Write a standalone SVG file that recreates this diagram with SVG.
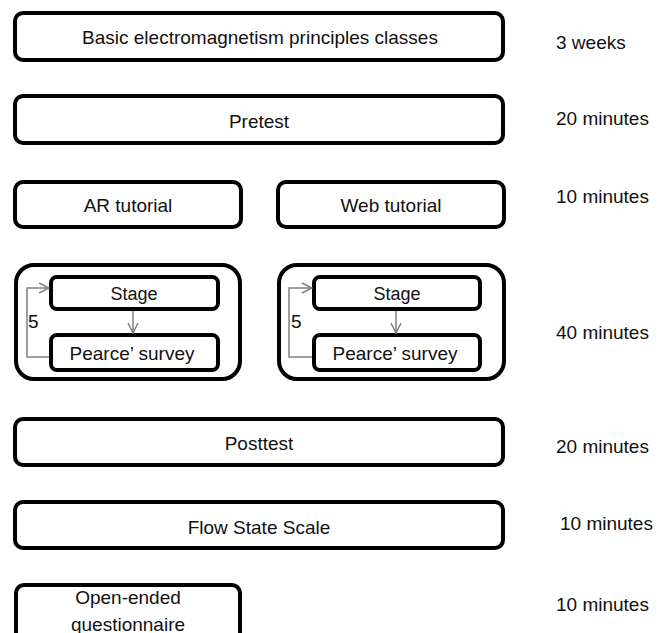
<svg xmlns="http://www.w3.org/2000/svg" width="659" height="633" viewBox="0 0 659 633">
<style>
.box{fill:#fff;stroke:#000;stroke-width:4}
.t{font-family:"Liberation Sans",Arial,sans-serif;font-size:19px;fill:#111;text-anchor:middle;dominant-baseline:central}
.s{font-size:18px}
.d{font-family:"Liberation Sans",Arial,sans-serif;font-size:19px;fill:#111;dominant-baseline:central}
.c{fill:none;stroke:#808080;stroke-width:1.5}
</style>
<defs>
<marker id="a" viewBox="0 0 12 12" refX="11" refY="6" markerWidth="12" markerHeight="12" markerUnits="userSpaceOnUse" orient="auto">
<path d="M1,1 L11,6 L1,11" fill="none" stroke="#808080" stroke-width="1.5"/>
</marker>
</defs>
<g id="n1"><rect class="box" x="15" y="13" width="488" height="47" rx="8"/><text class="t" x="260" y="37">Basic electromagnetism principles classes</text></g>
<g id="n2"><rect class="box" x="15" y="96" width="488" height="47" rx="8"/><text class="t" x="259" y="121">Pretest</text></g>
<g id="n3"><rect class="box" x="15" y="182" width="226" height="45" rx="8"/><text class="t" x="128" y="205">AR tutorial</text></g>
<g id="n4"><rect class="box" x="278" y="182" width="226" height="45" rx="8"/><text class="t" x="391" y="205">Web tutorial</text></g>
<g id="c1"><rect class="box" x="16" y="265" width="224" height="114" rx="18"/></g>
<g id="n5"><rect class="box" x="51" y="277" width="167" height="32" rx="6"/><text class="t s" x="134" y="294">Stage</text></g>
<g id="n6"><rect class="box" x="51" y="335" width="167" height="35" rx="6"/><text class="t" x="132" y="353">Pearce’ survey</text></g>
<g id="c2"><rect class="box" x="279" y="265" width="225" height="114" rx="18"/></g>
<g id="n7"><rect class="box" x="314" y="277" width="166" height="32" rx="6"/><text class="t s" x="397" y="294">Stage</text></g>
<g id="n8"><rect class="box" x="314" y="335" width="166" height="35" rx="6"/><text class="t" x="395" y="353">Pearce’ survey</text></g>
<g id="n9"><rect class="box" x="15" y="419" width="488" height="46" rx="8"/><text class="t" x="259" y="443">Posttest</text></g>
<g id="n10"><rect class="box" x="15" y="502" width="488" height="46" rx="8"/><text class="t" x="259" y="527">Flow State Scale</text></g>
<g id="n11"><rect class="box" x="16" y="585" width="224" height="56" rx="8"/><text class="t" x="128" y="597">Open-ended</text><text class="t" x="128" y="624">questionnaire</text></g>
<g id="connectors">
<line class="c" x1="133" y1="311" x2="133" y2="333" marker-end="url(#a)"/>
<polyline class="c" points="49,357 27,357 27,288 49,288" marker-end="url(#a)"/>
<line class="c" x1="396" y1="311" x2="396" y2="333" marker-end="url(#a)"/>
<polyline class="c" points="312,357 289,357 289,288 312,288" marker-end="url(#a)"/>
<text class="d" x="28" y="321">5</text>
<text class="d" x="291" y="321">5</text>
</g>
<g id="durations">
<text class="d" x="556" y="42">3 weeks</text>
<text class="d" x="556" y="118">20 minutes</text>
<text class="d" x="556" y="196">10 minutes</text>
<text class="d" x="556" y="332">40 minutes</text>
<text class="d" x="556" y="446">20 minutes</text>
<text class="d" x="560" y="523">10 minutes</text>
<text class="d" x="556" y="604">10 minutes</text>
</g>
</svg>
